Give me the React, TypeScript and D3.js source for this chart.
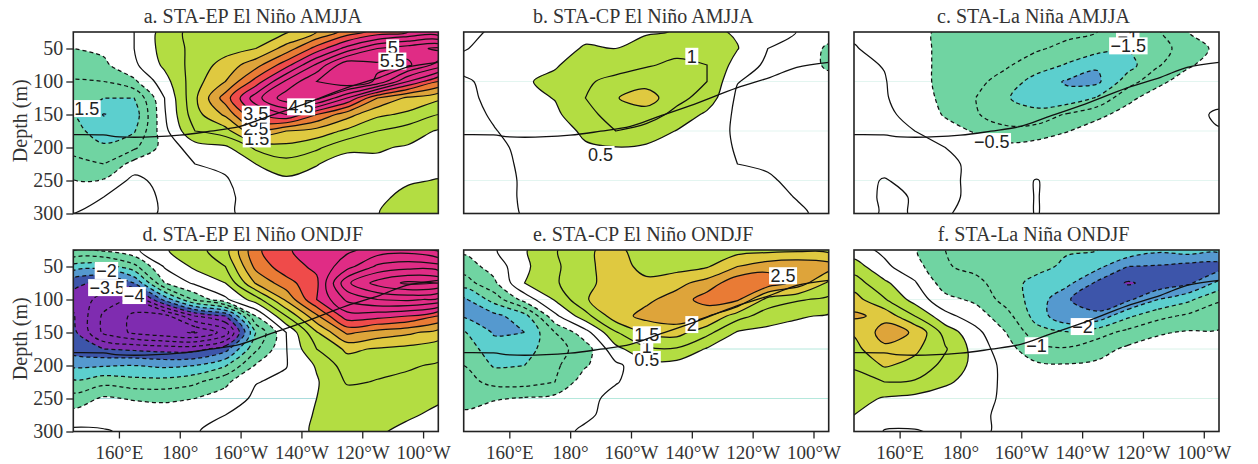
import React, { useEffect, useRef } from 'react';
import * as d3 from 'd3';

// Depth-longitude sections of temperature anomaly, one column per longitude

const lonGrid = [145, 155, 165, 175, 185, 195, 205, 215, 225, 235, 245, 255, 265];
const depthGrid = [25, 50, 75, 100, 125, 150, 175, 200, 225, 250, 275, 300];

const lonTicks = [160, 180, 200, 220, 240, 260];
const lonTickLabels = ['160°E', '180°', '160°W', '140°W', '120°W', '100°W'];
const depthTicks = [50, 100, 150, 200, 250, 300];

const thermoLon = [145, 154.8, 160.2, 180, 190, 199.8, 208.5, 219.5, 234.8, 245.8, 254.5, 265];
const thermoDepth = [180.4, 181, 184, 181.4, 175.3, 168, 154, 136.6, 109.6, 93.6, 78.5, 71];

const posLevels = [0.5, 1.5, 2, 2.5, 3, 3.5];
const posColors = ['#b3dd42', '#dfc940', '#dea43a', '#e97b35', '#ef4b4a', '#e02c85'];
const negLevels = [0.5, 1.5, 2, 2.5, 3];
const negColors = ['#70d4a2', '#5ccfce', '#5599cf', '#3d55aa', '#7f2cb0'];
const posLines = [0.5, 1, 1.5, 2, 2.5, 3, 3.5, 4, 4.5, 5, 5.5, 6, 6.5];
const negLines = [0.5, 1, 1.5, 2, 2.5, 3, 3.5, 4, 4.5, 5];

const fieldA = [
  [-0.1, -0.5, -0.7, -1.05, -1.2, -1.5, -1.3, -1.1, -0.9, -0.48, -0.2, 0],
  [-0.2, -0.4, -0.6, -1.0, -1.5, -2.02, -1.8, -1.4, -1.0, -0.45, 0, 0.2],
  [0, 0, -0.1, -0.6, -1.5, -1.8, -1.55, -1.1, -0.3, 0.15, 0.4, 0.3],
  [0.7, 0.7, 0.6, 0.3, 0, -0.05, -0.15, -0.3, -0.3, -0.2, -0.15, -0.1],
  [1.2, 1.15, 1.2, 1.3, 1.4, 1.3, 1.0, 0.25, 0, -0.15, -0.2, -0.2],
  [1.2, 1.3, 1.7, 2.0, 2.75, 2.1, 1.3, 0.4, 0.1, -0.05, -0.1, -0.1],
  [1.3, 1.5, 2.3, 3.2, 4.3, 3.5, 2.4, 1.1, 0.5, 0.3, 0.2, 0.2],
  [1.45, 2.2, 3.3, 4.6, 5.3, 4.0, 2.0, 1.35, 0.8, 0.4, 0.2, 0.2],
  [2.0, 3.2, 4.6, 5.5, 5.2, 3.0, 1.8, 1.1, 0.52, 0.35, 0.2, 0.25],
  [2.7, 4.2, 5.9, 6.0, 4.0, 2.2, 1.4, 0.6, 0.3, 0.3, 0.2, 0.3],
  [3.2, 5.0, 5.6, 5.4, 2.5, 1.6, 1.0, 0.55, 0.4, 0.3, 0.4, 0.48],
  [3.5, 5.3, 5.6, 4.0, 1.9, 1.4, 0.75, 0.45, 0.35, 0.45, 0.62, 0.8],
  [3.6, 5.6, 4.8, 3.0, 1.6, 1.0, 0.45, 0.3, 0.35, 0.52, 0.75, 0.9],
];
const fieldB = [
  [-0.1, -0.02, 0.1, -0.05, -0.1, -0.15, -0.2, -0.2, -0.2, -0.2, -0.2, -0.2],
  [0.05, 0.1, 0.2, 0.1, 0.1, 0.05, -0.02, -0.1, -0.15, -0.15, -0.15, -0.15],
  [0.2, 0.25, 0.3, 0.45, 0.35, 0.3, 0.15, 0.1, 0.08, 0.05, 0.05, 0.03],
  [0.25, 0.3, 0.45, 0.62, 0.52, 0.4, 0.3, 0.25, 0.2, 0.15, 0.15, 0.15],
  [0.35, 0.55, 0.75, 0.95, 1.0, 0.85, 0.58, 0.45, 0.3, 0.25, 0.2, 0.15],
  [0.4, 0.5, 0.85, 1.1, 1.47, 1.2, 1.0, 0.48, 0.3, 0.25, 0.2, 0.2],
  [0.45, 0.7, 0.95, 1.3, 1.75, 1.25, 0.8, 0.42, 0.3, 0.25, 0.2, 0.2],
  [0.52, 0.85, 1.1, 1.3, 1.15, 0.85, 0.48, 0.3, 0.25, 0.2, 0.2, 0.2],
  [0.6, 0.8, 1.0, 1.0, 0.8, 0.4, 0.3, 0.25, 0.2, 0.2, 0.15, 0.15],
  [0.45, 0.52, 0.3, 0.02, -0.1, -0.1, -0.1, -0.05, 0, 0.1, 0.1, 0.1],
  [0.25, 0, -0.1, -0.2, -0.2, -0.2, -0.2, -0.15, -0.05, 0.05, 0.1, 0.1],
  [-0.02, -0.2, -0.25, -0.25, -0.2, -0.2, -0.2, -0.2, -0.15, -0.1, -0.02, 0.05],
  [-0.3, -0.58, -0.58, -0.35, -0.3, -0.25, -0.25, -0.25, -0.2, -0.2, -0.15, -0.1],
];
const fieldC = [
  [-0.05, 0.02, 0.1, 0.1, 0.1, 0.1, 0.1, 0.1, 0.1, 0.1, 0.3, 0.4],
  [-0.15, -0.1, -0.02, 0.03, 0.05, 0.1, 0.15, 0.15, 0.1, -0.02, -0.1, -0.1],
  [-0.35, -0.35, -0.35, -0.35, -0.3, -0.15, 0, 0.08, 0.1, 0.1, 0.03, 0.03],
  [-0.62, -0.62, -0.62, -0.62, -0.6, -0.55, -0.3, 0, 0.1, 0.1, 0.1, 0.03],
  [-0.7, -0.75, -0.8, -0.9, -1.0, -0.95, -0.55, -0.2, -0.1, -0.1, -0.1, -0.1],
  [-0.8, -0.9, -0.95, -1.15, -1.45, -1.3, -0.85, -0.35, -0.15, -0.1, -0.1, -0.1],
  [-0.85, -0.95, -1.2, -1.75, -1.8, -1.3, -0.8, -0.25, -0.12, 0.01, 0.01, 0.01],
  [-0.9, -1.1, -1.55, -2.05, -1.85, -0.95, -0.52, -0.2, -0.12, -0.1, -0.1, -0.1],
  [-1.0, -1.3, -1.95, -2.1, -1.45, -0.6, -0.3, -0.15, -0.1, -0.1, -0.1, -0.1],
  [-1.1, -1.5, -1.7, -1.25, -0.6, -0.35, -0.15, -0.1, -0.1, -0.1, -0.1, -0.1],
  [-1.05, -1.25, -1.05, -0.6, -0.3, -0.15, -0.1, -0.1, -0.1, -0.1, -0.1, -0.1],
  [-0.5, -0.7, -0.55, -0.3, -0.15, -0.1, -0.1, -0.1, -0.1, -0.1, -0.1, -0.1],
  [-0.2, -0.4, -0.3, -0.2, -0.1, 0.05, -0.02, -0.1, -0.1, -0.1, -0.1, -0.1],
];
const fieldD = [
  [-0.45, -1.7, -2.9, -3.15, -2.95, -2.85, -2.75, -2.1, -1.4, -0.8, -0.3, 0.1],
  [-0.4, -1.8, -3.1, -3.7, -4.1, -4.1, -3.0, -2.05, -1.15, -0.42, -0.1, 0.02],
  [-0.1, -1.15, -2.5, -4.1, -4.6, -4.6, -3.1, -2.0, -1.3, -0.55, -0.15, -0.05],
  [0.45, 0.05, -0.5, -2.35, -4.7, -4.85, -3.2, -2.1, -1.3, -0.6, -0.2, -0.1],
  [0.8, 0.6, 0.1, -0.9, -3.5, -5.05, -3.2, -2.0, -1.1, -0.5, -0.2, -0.02],
  [1.3, 1.0, 0.5, -0.1, -3.0, -4.3, -2.7, -1.55, -0.6, -0.3, 0, 0.1],
  [2.9, 2.65, 2.05, 0.75, -0.5, -1.5, -1.1, -0.45, -0.02, 0.1, 0.12, 0.15],
  [3.4, 3.3, 2.8, 2.1, 1.0, 0, -0.02, -0.02, 0.1, 0.15, 0.2, 0.2],
  [3.9, 3.6, 3.4, 3.5, 2.4, 1.45, 1.0, 0.55, 0.45, 0.5, 0.55, 0.6],
  [3.9, 4.3, 5.4, 4.6, 3.8, 2.6, 1.6, 1.25, 1.05, 0.75, 0.6, 0.5],
  [4.2, 5.1, 6.2, 5.0, 3.7, 2.3, 1.45, 1.1, 0.98, 0.8, 0.62, 0.55],
  [4.3, 5.3, 6.6, 5.1, 3.5, 2.1, 1.35, 1.05, 0.9, 0.72, 0.55, 0.4],
  [3.9, 5.2, 6.5, 4.9, 3.0, 1.8, 1.2, 0.95, 0.8, 0.55, 0.42, 0.35],
];
const fieldE = [
  [-0.4, -0.75, -1.25, -2.1, -2.05, -1.45, -1.2, -1.0, -0.8, -0.6, -0.45, -0.2],
  [-0.05, -0.3, -0.6, -1.3, -2.15, -2.05, -1.8, -1.55, -1.15, -0.55, -0.2, -0.1],
  [0.45, 0.4, 0.5, -0.3, -1.7, -2.0, -1.7, -1.5, -1.2, -0.45, -0.15, -0.1],
  [0.95, 0.9, 0.95, 0.55, -0.12, -1.0, -1.2, -1.1, -1.0, -0.35, -0.15, -0.1],
  [1.45, 1.4, 1.3, 1.45, 0.8, -0.2, -0.75, -0.55, -0.2, -0.1, -0.05, 0.05],
  [1.6, 1.7, 1.85, 1.9, 1.8, 0.95, 0.35, -0.1, -0.02, 0.1, 0.1, 0.1],
  [1.3, 1.35, 1.6, 1.9, 2.15, 1.6, 0.9, 0.3, 0.15, 0.1, 0.1, 0.1],
  [1.2, 1.3, 1.85, 2.2, 2.3, 1.7, 0.95, 0.3, 0.15, 0.1, 0.1, 0.1],
  [1.25, 1.45, 2.2, 2.75, 2.05, 1.15, 0.45, 0.2, 0.1, 0.1, 0.1, 0.1],
  [1.3, 2.0, 2.85, 2.6, 1.2, 0.45, 0.25, 0.15, 0.1, 0.1, 0.1, 0.1],
  [1.35, 2.3, 2.85, 1.3, 0.75, 0.35, 0.2, 0.1, 0.1, 0.1, 0.1, 0.1],
  [1.4, 2.4, 2.3, 1.05, 0.55, 0.3, 0.2, 0.1, 0.1, 0.1, 0.1, 0.1],
  [1.35, 2.25, 1.4, 0.9, 0.45, 0.25, 0.15, 0.1, 0.1, 0.1, 0.1, 0.1],
];
const fieldF = [
  [0.2, 0.75, 1.25, 1.7, 2.1, 1.55, 1.35, 1.05, 0.85, 0.7, 0.5, 0.3],
  [-0.1, 0.1, 0.6, 1.05, 1.85, 2.2, 1.9, 1.55, 1.0, 0.45, 0.15, -0.02],
  [-0.45, -0.3, 0.05, 0.3, 1.0, 1.95, 1.6, 1.35, 0.95, 0.35, 0.12, -0.02],
  [-1.0, -0.95, -0.75, -0.35, 0.15, 0.8, 1.05, 0.85, 0.6, 0.2, 0.05, 0.05],
  [-1.15, -1.15, -0.85, -0.6, -0.25, 0.15, 0.3, 0.35, 0.25, 0.1, 0.05, 0.05],
  [-1.35, -1.35, -1.3, -1.2, -0.8, -0.5, -0.3, -0.15, -0.1, -0.05, -0.05, -0.05],
  [-1.4, -1.35, -1.65, -1.7, -1.7, -1.3, -0.85, -0.4, -0.15, -0.1, -0.1, -0.1],
  [-1.45, -1.6, -1.85, -2.45, -2.45, -1.45, -0.95, -0.45, -0.2, -0.1, -0.1, -0.1],
  [-1.5, -1.85, -2.6, -2.85, -2.35, -1.2, -0.7, -0.4, -0.15, -0.1, -0.1, -0.1],
  [-1.6, -2.5, -3.05, -2.6, -1.6, -0.85, -0.4, -0.2, -0.1, -0.1, -0.1, -0.1],
  [-1.9, -2.55, -2.85, -2.0, -1.15, -0.55, -0.3, -0.15, -0.1, -0.1, -0.1, -0.1],
  [-1.75, -2.7, -2.6, -1.6, -0.9, -0.45, -0.25, -0.15, -0.1, -0.1, -0.1, -0.1],
  [-1.85, -2.75, -1.85, -1.05, -0.75, -0.45, -0.25, -0.15, -0.1, -0.1, -0.1, -0.1],
];

const labelsA: [string, number, number][] = [
  ['1.5', 149.4, 141], ['5', 250, 49], ['5.5', 249.9, 69], ['4.5', 219.9, 138.4],
  ['1.5', 205.3, 187], ['2.5', 205, 171], ['3', 204.2, 159.6], ['3.5', 205, 149.5],
];
const labelsB: [string, number, number][] = [['1', 220, 61.8], ['0.5', 190, 210.5]];
const labelsC: [string, number, number][] = [['−1', 235, 31.5], ['−1.5', 235.2, 46], ['−0.5', 190.3, 191]];
const labelsD: [string, number, number][] = [['−2', 155.9, 56], ['−3.5', 156.2, 82], ['−4', 165, 94]];
const labelsE: [string, number, number][] = [['2.5', 250, 64], ['2', 220, 138], ['0.5', 205.2, 191], ['1', 205.2, 171], ['1.5', 205.2, 153.5]];
const labelsF: [string, number, number][] = [['−2', 220.1, 141], ['−1', 205, 170]];

const panels = [
  { id: 'a', title: 'a. STA-EP El Niño AMJJA', field: fieldA, labels: labelsA, left: 73.3, top: 32, refColor: '#e3f5f0' },
  { id: 'b', title: 'b. STA-CP El Niño AMJJA', field: fieldB, labels: labelsB, left: 463.7, top: 32, refColor: '#e3f5f0' },
  { id: 'c', title: 'c. STA-La Niña AMJJA', field: fieldC, labels: labelsC, left: 854, top: 32, refColor: '#e3f5f0' },
  { id: 'd', title: 'd. STA-EP El Niño ONDJF', field: fieldD, labels: labelsD, left: 73.3, top: 250, refColor: '#a9dcdc' },
  { id: 'e', title: 'e. STA-CP El Niño ONDJF', field: fieldE, labels: labelsE, left: 463.7, top: 250, refColor: '#b5e8dc' },
  { id: 'f', title: 'f. STA-La Niña ONDJF', field: fieldF, labels: labelsF, left: 854, top: 250, refColor: '#d8f2e8' },
];

const W = 365;
const H = 181.5;
const serif = '"Liberation Serif", serif';
const sans = '"Liberation Sans", sans-serif';

const x = d3.scaleLinear().domain([145, 265]).range([0, W]);
const y = d3.scaleLinear().domain([25, 300]).range([0, H]);

// d3.contours puts value i at i + 0.5
const gx = (v: number) => x(lonGrid[0] + (v - 0.5) * (lonGrid[1] - lonGrid[0]));
const gy = (v: number) => y(depthGrid[0] + (v - 0.5) * (depthGrid[1] - depthGrid[0]));

const ringLine = d3
  .line<number[]>()
  .x((d) => gx(d[0]))
  .y((d) => gy(d[1]))
  .curve(d3.curveCatmullRomClosed.alpha(0.5));

function contourPath(values: number[], level: number) {
  const gen = d3.contours().size([lonGrid.length, depthGrid.length]).smooth(true);
  const c = gen.contour(values, level);
  return c.coordinates
    .flatMap((poly) => poly.map((ring) => ringLine(ring.slice(0, -1)) || ''))
    .join('');
}

function flatten(cols: number[][], sign: number) {
  const out: number[] = [];
  depthGrid.forEach((_, j) => lonGrid.forEach((_, i) => out.push(sign * cols[i][j])));
  return out;
}

const thermoLine = d3
  .line<number>()
  .x((d) => x(d))
  .y((_, i) => y(thermoDepth[i]))
  .curve(d3.curveCatmullRom.alpha(0.5));

function labelWidth(s: string) {
  let w = 0;
  for (const ch of s) w += ch === '.' ? 5 : ch === '−' ? 10.5 : 10;
  return w + 3;
}

function Panel({ p, showX, showY }: any) {
  const xRef = useRef<SVGGElement>(null);
  const yRef = useRef<SVGGElement>(null);

  useEffect(() => {
    if (showX) {
      const ax = d3
        .axisBottom(x)
        .tickValues(lonTicks)
        .tickSize(7)
        .tickPadding(7.5)
        .tickFormat((_, i) => lonTickLabels[i]);
      d3.select(xRef.current).call(ax as any);
      d3.select(xRef.current).selectAll('text').style('font-size', '19px');
    }
    if (showY) {
      const ax = d3.axisLeft(y).tickValues(depthTicks).tickSize(7).tickPadding(3);
      d3.select(yRef.current).call(ax as any);
      d3.select(yRef.current).selectAll('text').style('font-size', '20px');
    }
    [xRef, yRef].forEach((r) => {
      const g = d3.select(r.current);
      g.select('.domain').remove();
      g.selectAll('line').attr('stroke', '#222').attr('stroke-width', 1.3);
      g.selectAll('text').attr('fill', '#333').style('font-family', serif);
    });
  }, []);

  const pos = flatten(p.field, 1);
  const neg = flatten(p.field, -1);
  const clipId = 'clip-' + p.id;

  return (
    <g transform={`translate(${p.left},${p.top})`}>
      <clipPath id={clipId}>
        <rect width={W} height={H} />
      </clipPath>
      <text x={W / 2 - 3} y={-9} textAnchor="middle" fontFamily={serif} fontSize={20} fill="#333">
        {p.title}
      </text>
      <g clipPath={`url(#${clipId})`}>
        {[100, 175, 250].map((d) => (
          <line key={d} x1={0} x2={W} y1={y(d)} y2={y(d)} stroke={d === 100 ? '#e3f5f0' : p.refColor} />
        ))}
        {negLevels.map((l, i) => (
          <path key={'nf' + l} d={contourPath(neg, l)} fill={negColors[i]} />
        ))}
        {posLevels.map((l, i) => (
          <path key={'pf' + l} d={contourPath(pos, l)} fill={posColors[i]} />
        ))}
        {negLines.map((l) => (
          <path key={'nl' + l} d={contourPath(neg, l)} fill="none" stroke="#111" strokeWidth={1.25} strokeDasharray="4,3" />
        ))}
        <path d={contourPath(pos, 0)} fill="none" stroke="#111" strokeWidth={1.25} />
        {posLines.map((l) => (
          <path key={'pl' + l} d={contourPath(pos, l)} fill="none" stroke="#111" strokeWidth={1.25} />
        ))}
        {p.labels.map(([t, lon, dep]: any, i: number) => (
          <g key={i} transform={`translate(${x(lon)},${y(dep)})`}>
            <rect x={-labelWidth(t) / 2} y={-8.5} width={labelWidth(t)} height={17} fill="#fff" />
            <text textAnchor="middle" y={6.3} fontFamily={sans} fontSize={18} fill="#222">
              {t}
            </text>
          </g>
        ))}
        <path d={thermoLine(thermoLon) || ''} fill="none" stroke="#111" strokeWidth={1.3} />
      </g>
      <rect width={W} height={H} fill="none" stroke="#222" strokeWidth={1.6} />
      <g ref={xRef} transform={`translate(0,${H})`} />
      <g ref={yRef} />
      {showY && (
        <text
          transform={`translate(-46,${H / 2 - 2}) rotate(-90)`}
          textAnchor="middle"
          fontFamily={serif}
          fontSize={20}
          fill="#333"
        >
          Depth (m)
        </text>
      )}
    </g>
  );
}

export default function App() {
  return (
    <svg width={1258} height={464} style={{ position: 'absolute', left: 0, top: 0, background: '#fff' }}>
      {panels.map((p, i) => (
        <Panel key={p.id} p={p} showX={i >= 3} showY={i % 3 === 0} />
      ))}
    </svg>
  );
}
